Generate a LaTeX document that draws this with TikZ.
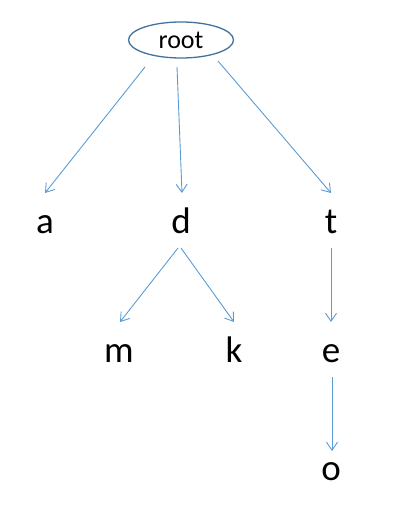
\documentclass[tikz,border=0pt]{standalone}
\usepackage{fontspec}
\setmainfont{Carlito}
\usetikzlibrary{arrows.meta,shapes.geometric,calc}
\definecolor{linkblue}{HTML}{5B9BD5}
\definecolor{ringblue}{HTML}{41719C}
\tikzset{
  letter/.style={anchor=base,inner sep=0pt,font=\fontsize{37}{40}\selectfont},
  rootnode/.style={ellipse,draw=ringblue,line width=1.3pt,minimum width=105pt,minimum height=36pt,inner sep=0pt,font=\fontsize{26}{30}\selectfont},
  arr/.style={draw=linkblue,line width=0.9pt,-{Straight Barb[length=8pt,width=11pt]}}
}
\begin{document}
\begin{tikzpicture}[x=1pt,y=-1pt]
\useasboundingbox (0,0) rectangle (406,505);
\node[rootnode] (root) at (181,40) {root};
\node[letter] (a) at (45,233) {a};
\node[letter] (d) at (181,233) {d};
\node[letter] (t) at (331,233) {t};
\node[letter] (m) at (119,362) {m};
\node[letter] (k) at (234,362) {k};
\node[letter] (e) at (331,362) {e};
\node[letter] (o) at (331,480) {o};
\draw[arr] ($(root.center)+(-36,27)$) -- ($(a.base)+(0,-40)$);
\draw[arr] ($(root.center)+(-4,27)$) -- ($(d.base)+(1,-40)$);
\draw[arr] ($(root.center)+(37,21)$) -- ($(t.base)+(0,-40)$);
\draw[arr] ($(d.base)+(-3,15)$) -- ($(m.base)+(1,-40)$);
\draw[arr] ($(d.base)+(0,15)$) -- ($(k.base)+(0,-40)$);
\draw[arr] ($(t.base)+(0,15)$) -- ($(e.base)+(0,-40)$);
\draw[arr] ($(e.base)+(1,15)$) -- ($(o.base)+(1,-29)$);
\end{tikzpicture}
\end{document}
